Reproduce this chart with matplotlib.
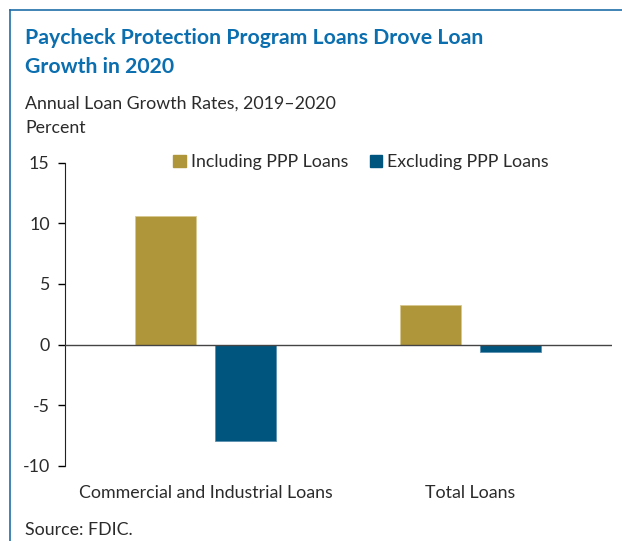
import matplotlib.pyplot as plt
import numpy as np
from matplotlib.patches import Patch
from matplotlib.lines import Line2D

plt.rcParams['font.family'] = ['Lato', 'DejaVu Sans']

categories = ['Commercial and Industrial Loans', 'Total Loans']
including_ppp = [10.6, 3.3]
excluding_ppp = [-7.9, -0.6]
series_names = ['Including PPP Loans', 'Excluding PPP Loans']
y_ticks = [-10, -5, 0, 5, 10, 15]

gold = '#B0963A'
navy = '#00557F'
border = '#1F6FA8'
textc = '#2b2b2b'
fs = 12.8

fig = plt.figure(figsize=(6.22, 5.41), dpi=100)

# frame lines on top and left
fig.add_artist(Line2D([10/622, 1], [1-10/541, 1-10/541], color=border, lw=1.2))
fig.add_artist(Line2D([10/622, 10/622], [0, 1-10/541], color=border, lw=1.2))

fig.text(25/622, 1-38/541, 'Paycheck Protection Program Loans Drove Loan',
         color='#0B6EAF', fontsize=15.3, fontweight='bold', va='center', ha='left')
fig.text(25/622, 1-67/541, 'Growth in 2020',
         color='#0B6EAF', fontsize=15.3, fontweight='bold', va='center', ha='left')
fig.text(25/622, 1-104/541, 'Annual Loan Growth Rates, 2019\u20132020', color=textc, fontsize=fs, va='center')
fig.text(25/622, 1-128/541, 'Percent', color=textc, fontsize=fs, va='center')
fig.text(25/622, 1-530/541, 'Source: FDIC.', color=textc, fontsize=fs, va='center')

ax = fig.add_axes([65/622, 1-466/541, (612-65)/622, (466-162.5)/541])
x = np.arange(len(categories))
w = 0.23
ax.bar(x - 0.151, including_ppp, w, color=gold, edgecolor='#d8c890', linewidth=0.6, zorder=2)
ax.bar(x + 0.151, excluding_ppp, w, color=navy, edgecolor='#5b8fb0', linewidth=0.6, zorder=2)
ax.axhline(0, color='#444444', lw=1, zorder=3)

ax.set_xlim(-0.53, 1.534)
ax.set_ylim(-10, 15)
ax.set_yticks(y_ticks)
ax.set_yticklabels([str(t) for t in y_ticks])
ax.set_xticks(x)
ax.set_xticklabels(categories)
ax.tick_params(axis='x', length=0, pad=14, labelsize=fs, labelcolor=textc)
ax.tick_params(axis='y', length=5, width=1, pad=6, labelsize=fs, labelcolor=textc)
for s in ['top', 'right', 'bottom']:
    ax.spines[s].set_visible(False)
ax.spines['left'].set_color('#222222')

handles = [Patch(color=gold, label=series_names[0]), Patch(color=navy, label=series_names[1])]
fig.legend(handles=handles, loc='center', bbox_to_anchor=(361/622, 1-162/541), ncol=2,
           frameon=False, fontsize=fs, handlelength=0.7, handleheight=0.7,
           handletextpad=0.3, columnspacing=1.2, labelcolor=textc)

fig.savefig('out.png', dpi=100)
